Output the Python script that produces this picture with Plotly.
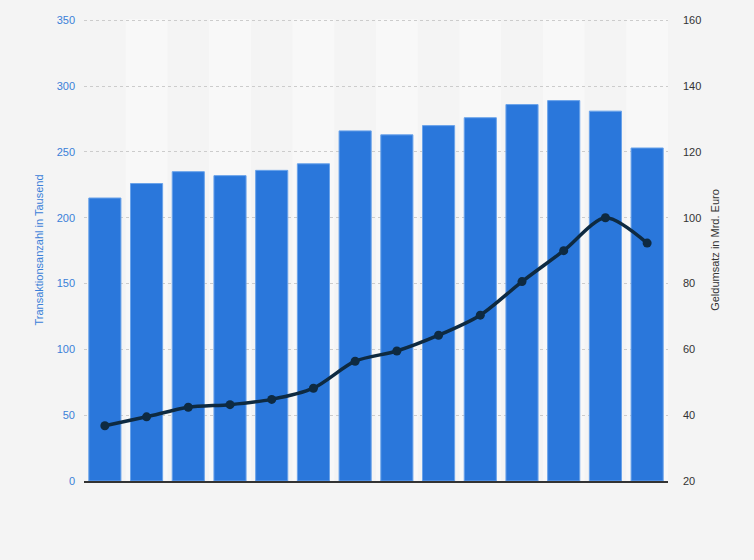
import plotly.graph_objects as go

# Data (x-axis categories are not labelled in the reference)
categories = [str(i) for i in range(1, 15)]
transaktionen_tsd = [215, 226, 235, 232, 236, 241, 266, 263, 270, 276, 286, 289, 281, 253]
geldumsatz_mrd = [36.8, 39.5, 42.4, 43.2, 44.8, 48.2, 56.4, 59.5, 64.3, 70.4, 80.6, 90.0, 100.0, 92.3]

left_ticks = [0, 50, 100, 150, 200, 250, 300, 350]
right_ticks = [20, 40, 60, 80, 100, 120, 140, 160]

BG = "#f4f4f4"
BAND = "#f8f8f8"
BAR = "#2a77db"
LINE = "#0e2a41"
BLUE_TXT = "#3a80d8"
DARK_TXT = "#333333"

fig = go.Figure()

fig.add_trace(go.Bar(
    x=categories, y=transaktionen_tsd, yaxis="y",
    marker=dict(color=BAR, line=dict(color="#6aa3ea", width=1)),
    name="Transaktionsanzahl", hoverinfo="y",
))
fig.add_trace(go.Scatter(
    x=categories, y=geldumsatz_mrd, yaxis="y2", mode="lines+markers",
    line=dict(color=LINE, width=3.5, shape="spline", smoothing=0.8),
    marker=dict(color=LINE, size=9),
    name="Geldumsatz",
))

# alternating column bands
shapes = []
for i, c in enumerate(categories):
    if i % 2 == 1:
        shapes.append(dict(type="rect", xref="x", yref="paper", x0=i - 0.5, x1=i + 0.5,
                           y0=0, y1=1, fillcolor=BAND, line=dict(width=0), layer="below"))

fig.update_layout(
    width=754, height=560,
    paper_bgcolor=BG, plot_bgcolor=BG,
    margin=dict(l=84, r=86, t=19, b=79),
    showlegend=False,
    bargap=0.23,
    shapes=shapes,
    font=dict(family="Liberation Sans, Arial, sans-serif", size=11),
    xaxis=dict(
        type="category", showticklabels=False, showgrid=False, ticks="",
        showline=True, linecolor="#333333", linewidth=1.5,
        range=[-0.5, len(categories) - 0.5], zeroline=False,
    ),
    yaxis=dict(
        range=[0, 351], tickvals=left_ticks, showgrid=True,
        gridcolor="#cccccc", griddash="dot", gridwidth=1,
        tickfont=dict(color=BLUE_TXT, size=11), zeroline=False,
        title=dict(text="Transaktionsanzahl in Tausend", font=dict(color=BLUE_TXT, size=11), standoff=10),
        ticklabelstandoff=8,
    ),
    yaxis2=dict(
        range=[20, 160.4], tickvals=right_ticks, overlaying="y", side="right",
        showgrid=False, zeroline=False,
        tickfont=dict(color=DARK_TXT, size=11),
        title=dict(text="Geldumsatz in Mrd. Euro", font=dict(color=DARK_TXT, size=11), standoff=10),
        ticklabelstandoff=14,
    ),
)

fig.write_html("out.html", config={"displayModeBar": False},
               post_script="document.body.style.margin='0';")
